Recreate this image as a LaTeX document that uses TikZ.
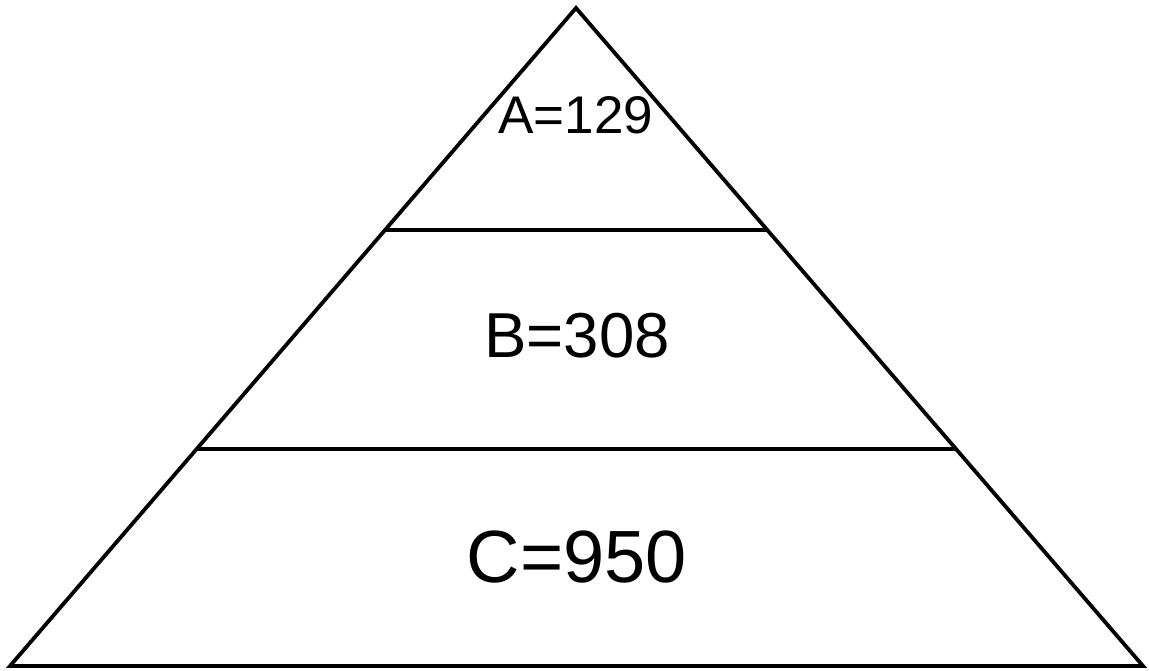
\documentclass[tikz,border=0pt]{standalone}
\usepackage{fontspec}
\setmainfont{Liberation Sans}
\usetikzlibrary{calc}
\tikzset{
  edge/.style={line width=3.8pt, line join=miter, black},
  lbl/.style={inner sep=0pt, anchor=center, text=black}
}
\begin{document}
\begin{tikzpicture}[x=1pt,y=-1pt]
\useasboundingbox (0,0) rectangle (1149,670);
\coordinate (top) at (576,8);
\coordinate (bl) at (10,666);
\coordinate (br) at (1143,666);
\coordinate (l1) at ($(top)!222/658!(bl)$);
\coordinate (r1) at ($(top)!222/658!(br)$);
\coordinate (l2) at ($(top)!441/658!(bl)$);
\coordinate (r2) at ($(top)!441/658!(br)$);
\draw[edge] (top) -- (bl) -- (br) -- cycle;
\draw[edge] (l1) -- (r1);
\draw[edge] (l2) -- (r2);
\node[lbl, font=\fontsize{53}{60}\selectfont] (a) at (576,115) {A=129};
\node[lbl, font=\fontsize{63.5}{70}\selectfont] (b) at (577,336) {B=308};
\node[lbl, font=\fontsize{74}{80}\selectfont] (c) at (577,557) {C=950};
\end{tikzpicture}
\end{document}
